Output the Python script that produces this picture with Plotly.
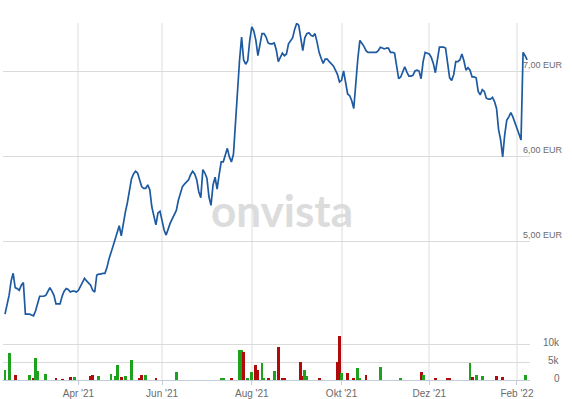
import pandas as pd
import plotly.graph_objects as go

# ---- data ----
prices = [
    4.14, 4.25, 4.36, 4.53, 4.62, 4.45, 4.44, 4.42, 4.48, 4.51,
    4.14, 4.14, 4.14, 4.13, 4.12, 4.18, 4.27, 4.35, 4.35, 4.35,
    4.36, 4.40, 4.45, 4.41, 4.36, 4.26, 4.26, 4.26, 4.35, 4.41,
    4.44, 4.43, 4.40, 4.41, 4.41, 4.40, 4.42, 4.47, 4.53, 4.56,
    4.53, 4.51, 4.48, 4.42, 4.40, 4.60, 4.61, 4.61, 4.62, 4.62,
    4.69, 4.79, 4.88, 4.94, 5.02, 5.11, 5.18, 5.06, 5.22, 5.34,
    5.45, 5.59, 5.73, 5.79, 5.82, 5.80, 5.73, 5.64, 5.62, 5.62,
    5.66, 5.60, 5.40, 5.28, 5.19, 5.33, 5.35, 5.24, 5.13, 5.07,
    5.15, 5.21, 5.26, 5.32, 5.36, 5.48, 5.55, 5.64, 5.67, 5.69,
    5.72, 5.78, 5.82, 5.79, 5.72, 5.58, 5.51, 5.84, 5.80, 5.74,
    5.52, 5.42, 5.66, 5.75, 5.61, 5.78, 5.93, 5.93, 6.01, 6.09,
    5.99, 5.93, 6.02, 6.42, 6.81, 7.13, 7.40, 7.13, 7.08, 7.12,
    7.36, 7.52, 7.47, 7.36, 7.18, 7.32, 7.44, 7.44, 7.40, 7.33,
    7.32, 7.32, 7.33, 7.25, 7.11, 7.16, 7.21, 7.18, 7.20, 7.32,
    7.35, 7.39, 7.49, 7.56, 7.54, 7.39, 7.24, 7.39, 7.44, 7.45,
    7.42, 7.41, 7.44, 7.34, 7.22, 7.15, 7.09, 7.14, 7.14, 7.11,
    7.08, 7.06, 7.01, 6.96, 6.87, 6.89, 7.00, 6.84, 6.73, 6.71,
    6.65, 6.56, 6.87, 7.15, 7.36, 7.33, 7.29, 7.24, 7.22, 7.22,
    7.22, 7.22, 7.22, 7.24, 7.28, 7.27, 7.26, 7.27, 7.27, 7.22,
    7.22, 7.21, 7.06, 6.91, 6.93, 6.98, 7.05, 6.99, 6.94, 6.94,
    6.95, 7.00, 7.01, 7.00, 6.91, 7.11, 7.22, 7.21, 7.20, 7.16,
    7.09, 6.98, 7.13, 7.28, 7.28, 7.28, 7.27, 7.06, 6.92, 6.89,
    6.96, 7.11, 7.11, 7.13, 7.20, 7.12, 7.01, 7.04, 7.01, 6.93,
    6.93, 6.92, 6.76, 6.72, 6.78, 6.76, 6.68, 6.67, 6.67, 6.69,
    6.64, 6.56, 6.31, 6.19, 5.99, 6.25, 6.42, 6.46, 6.51, 6.46,
    6.40, 6.33, 6.26, 6.19, 7.22, 7.18, 7.13,
]

holidays = ["2021-04-02", "2021-04-05", "2021-12-24"]
days = pd.bdate_range("2021-02-10", "2022-02-08")
days = days[~days.isin(pd.to_datetime(holidays))]
days = days[: len(prices)]

# volume bars: trading-day index, volume (thousands), up-day flag
vol_idx = [0, 2, 5, 12, 14, 15, 16, 20, 25, 28, 32, 34, 42, 43, 46, 52, 54, 55, 57, 59,
           62, 66, 67, 69, 74, 84, 106, 107, 111, 115, 116, 117, 119, 121, 123, 124, 126, 127, 129, 132,
           134, 136, 137, 145, 146, 147, 148, 154, 163, 164, 165, 168, 171, 173, 174, 177, 184, 194, 204, 205,
           211, 217, 218, 228, 229, 231, 234, 241, 244, 255]
vol_k = [2.9, 7.6, 1.5, 1.5, 0.4, 6.1, 2.4, 1.8, 0.4, 0.2, 0.7, 0.7, 1.0, 1.5, 1.0, 1.8, 1.0, 4.1, 0.7, 1.0,
         5.5, 0.4, 1.3, 1.5, 0.4, 2.1, 0.6, 0.6, 0.3, 8.4, 8.2, 7.9, 0.3, 2.2, 4.2, 2.8, 4.8, 0.4, 0.4, 2.4,
         9.3, 0.3, 0.3, 5.0, 1.0, 2.8, 1.0, 0.3, 5.0, 12.2, 2.0, 2.0, 0.4, 3.2, 0.5, 1.5, 3.6, 0.3, 2.2, 1.5,
         0.3, 0.6, 0.3, 4.8, 0.7, 1.3, 1.0, 1.0, 0.7, 1.3]
vol_up = [1, 1, 0, 1, 0, 1, 1, 1, 0, 0, 0, 1, 0, 0, 1, 1, 1, 1, 0, 1,
          1, 0, 0, 1, 0, 1, 1, 1, 0, 1, 1, 0, 1, 1, 0, 0, 1, 1, 0, 1,
          0, 0, 0, 0, 0, 1, 1, 0, 0, 0, 1, 0, 0, 1, 1, 0, 1, 1, 0, 1,
          0, 0, 0, 1, 0, 1, 1, 0, 0, 1]

tick_months = ["2021-04", "2021-06", "2021-08", "2021-10", "2021-12", "2022-02"]
tick_text = ["Apr '21", "Jun '21", "Aug '21", "Okt '21", "Dez '21", "Feb '22"]
price_ticks = [5, 6, 7]
price_text = ["5,00 EUR", "6,00 EUR", "7,00 EUR"]
vol_ticks = [0, 5, 10]
vol_text = ["0", "5k", "10k"]

# ---- figure ----
x = list(range(len(prices)))
tick_pos = [int((days >= pd.Timestamp(m + "-01")).argmax()) for m in tick_months]

LINE = "#1d5aa0"
GREEN = "#1ea21e"
RED = "#b10a0a"
TXT = "#6b6b6b"

fig = go.Figure()
fig.add_trace(go.Scatter(x=x, y=prices, mode="lines", line=dict(color=LINE, width=1.7),
                         xaxis="x", yaxis="y", showlegend=False))
fig.add_trace(go.Bar(x=vol_idx, y=[v * 1000 for v in vol_k], width=1.4,
                     marker=dict(color=[GREEN if u else RED for u in vol_up], line=dict(width=0)),
                     xaxis="x2", yaxis="y2", showlegend=False))

split = 54 / 357
xr = [-0.98, 257.4]
fig.update_layout(
    width=572, height=399,
    margin=dict(l=3, r=42, t=23, b=19, autoexpand=False),
    paper_bgcolor="white", plot_bgcolor="white",
    font=dict(family="Liberation Sans, Arial, sans-serif", size=10, color=TXT),
    xaxis=dict(domain=[0, 1], anchor="y", range=xr, tickvals=tick_pos, showticklabels=False,
               ticks="", showgrid=True, gridcolor="#eeeeee", gridwidth=2, zeroline=False,
               automargin=False),
    yaxis=dict(domain=[split, 1], range=[4.0, 7.565], tickvals=[4, 5, 6, 7], showticklabels=False,
               showgrid=True, gridcolor="#dadada", gridwidth=1, zeroline=False, automargin=False),
    xaxis2=dict(domain=[0, 1], anchor="y2", range=xr, matches="x", tickvals=tick_pos,
                ticktext=tick_text, ticks="outside", ticklen=4, tickcolor="#c3cdd9",
                showline=True, linecolor="#c3cdd9", linewidth=1,
                showgrid=True, gridcolor="#eeeeee", gridwidth=2, zeroline=False,
                tickfont=dict(size=10, color=TXT), automargin=False),
    yaxis2=dict(domain=[0, split], range=[0, 15000], tickvals=[5000, 10000, 15000],
                showticklabels=False, showgrid=True, gridcolor="#dadada", zeroline=False,
                automargin=False),
    bargap=0,
)

ann = []
for v, t in zip(price_ticks, price_text):
    ann.append(dict(xref="paper", yref="y", x=(522 - 3) / 527, y=v, xanchor="left", yanchor="bottom",
                    text=t, showarrow=False, font=dict(size=9, color=TXT), borderpad=0, yshift=0))
for v, t in zip(vol_ticks, vol_text):
    ann.append(dict(xref="paper", yref="y2", x=(561 - 3) / 527, y=v * 1000, xanchor="right", yanchor="middle",
                    text=t, showarrow=False, font=dict(size=10, color=TXT), borderpad=0, yshift=2))
ann.append(dict(xref="paper", yref="paper", x=(282 - 3) / 527, y=(380 - 210) / 357, xanchor="center",
                yanchor="middle", text="onvista", showarrow=False,
                font=dict(family="Lato, Noto Sans, sans-serif", size=44, color="#dcdcdc", weight=700)))
fig.update_layout(annotations=ann)

fig.write_html("out.html")
